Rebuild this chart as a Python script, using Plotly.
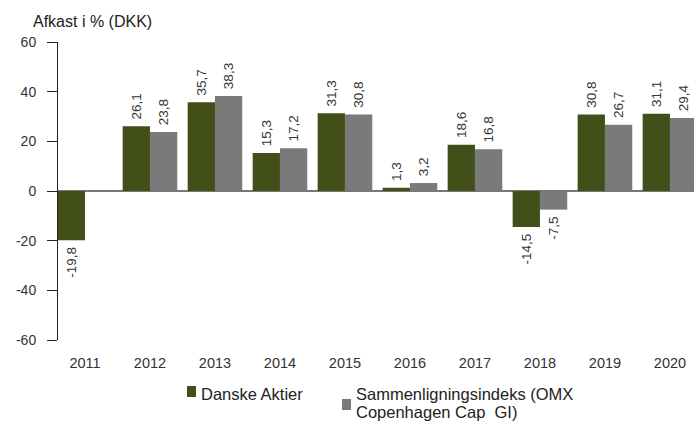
import plotly.graph_objects as go

years = ["2011", "2012", "2013", "2014", "2015", "2016", "2017", "2018", "2019", "2020"]
danske = [-19.8, 26.1, 35.7, 15.3, 31.3, 1.3, 18.6, -14.5, 30.8, 31.1]
bench = [None, 23.8, 38.3, 17.2, 30.8, 3.2, 16.8, -7.5, 26.7, 29.4]
name_a = "Danske Aktier"
name_b_lines = ["Sammenligningsindeks (OMX", "Copenhagen Cap  GI)"]
yticks = [-60, -40, -20, 0, 20, 40, 60]
yticktext = ["-60", "-40", "-20", "0", "20", "40", "60"]

OLIVE = "#424f18"
GREY = "#7a7a7a"
FONT = "Liberation Sans, Arial, sans-serif"

W, H = 694, 421
L, R, T, B = 58, 0, 42, 81
PW, PH = W - L - R, H - T - B


def px(x):
    return (x - L) / PW


def py(y):
    return (H - B - y) / PH


def fmt(v):
    if v is None:
        return ""
    s = f"{v:.1f}".replace(".", ",")
    return (" " + s) if v >= 0 else (s + " ")


fig = go.Figure()
for vals, name, col in [(danske, name_a, OLIVE), (bench, " ".join(name_b_lines), GREY)]:
    fig.add_trace(go.Bar(x=years, y=vals, name=name, marker_color=col,
                         marker_line_width=0,
                         text=[fmt(v) for v in vals], textposition="outside",
                         textangle=-90, cliponaxis=False, constraintext="none",
                         textfont=dict(size=13.5, color="#333333", family=FONT)))

fig.update_layout(
    width=W, height=H,
    margin=dict(l=L, r=R, t=T, b=B, autoexpand=False),
    paper_bgcolor="white", plot_bgcolor="white",
    barmode="group", bargap=0.16, bargroupgap=0,
    font=dict(family=FONT, size=14, color="#333333"),
    showlegend=False,
)

# title
fig.add_annotation(text="Afkast i % (DKK)", xref="paper", yref="paper",
                   x=px(31), y=py(21), xanchor="left", yanchor="middle",
                   showarrow=False, font=dict(size=16, color="#222222", family=FONT))

# manual legend
fig.add_shape(type="rect", xref="paper", yref="paper",
              x0=px(187), x1=px(196), y0=py(386), y1=py(397),
              fillcolor=OLIVE, line_width=0)
fig.add_annotation(text=name_a, xref="paper", yref="paper",
                   x=px(199), y=py(394), xanchor="left", yanchor="middle",
                   showarrow=False, font=dict(size=16.5, color="#222222", family=FONT))
fig.add_shape(type="rect", xref="paper", yref="paper",
              x0=px(342), x1=px(351), y0=py(399), y1=py(410),
              fillcolor=GREY, line_width=0)
for i, line in enumerate(name_b_lines):
    fig.add_annotation(text=line, xref="paper", yref="paper",
                       x=px(354), y=py(394 + 18 * i), xanchor="left", yanchor="middle",
                       showarrow=False, font=dict(size=16.5, color="#222222", family=FONT))

fig.update_xaxes(type="category", range=[-0.415, 9.37], showline=False, showgrid=False,
                 zeroline=False, ticks="outside", ticklen=10, tickcolor="rgba(0,0,0,0)",
                 automargin=False, tickfont=dict(size=14.5, color="#333333"))
fig.update_yaxes(range=[-60, 60], tickvals=yticks, ticktext=yticktext, showgrid=False,
                 showline=True, linecolor="#222222", linewidth=1, ticks="outside",
                 ticklen=10, tickcolor="#222222", zeroline=True, zerolinecolor="#777777",
                 zerolinewidth=1.5, automargin=False, ticklabelstandoff=8,
                 tickfont=dict(size=14, color="#333333"))

fig.write_html("out.html", config={"displayModeBar": False},
               post_script="document.body.style.margin='0px';")
